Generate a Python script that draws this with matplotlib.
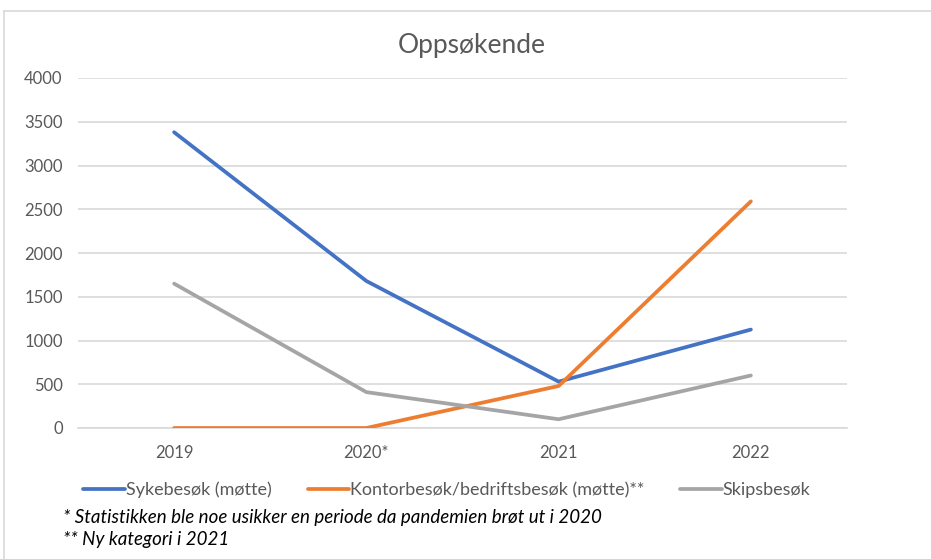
import matplotlib.pyplot as plt
from matplotlib.lines import Line2D

# data
years = ['2019', '2020*', '2021', '2022']
syke = [3380, 1680, 530, 1125]
kontor = [0, 0, 480, 2590]
skip = [1650, 410, 100, 600]
yticks = [0, 500, 1000, 1500, 2000, 2500, 3000, 3500, 4000]

labels = ['Sykebesøk (møtte)', 'Kontorbesøk/bedriftsbesøk (møtte)**', 'Skipsbesøk']
colors = ['#4472C4', '#ED7D31', '#A5A5A5']
notes = ['* Statistikken ble noe usikker en periode da pandemien brøt ut i 2020',
         '** Ny kategori i 2021']

plt.rcParams['font.family'] = ['Lato', 'DejaVu Sans']

W, H = 931, 559
fig = plt.figure(figsize=(W / 100, H / 100), dpi=100)
ax = fig.add_axes([78 / W, 1 - 428 / H, (847 - 78) / W, (428 - 78) / H])

x = list(range(len(years)))
for vals, c, lab in zip([syke, kontor, skip], colors, labels):
    ax.plot(x, vals, color=c, lw=2.7, solid_capstyle='round', label=lab, zorder=3)

ax.set_xlim(-0.5, len(years) - 0.5)
ax.set_ylim(0, 4000)
ax.set_yticks(yticks)
ax.set_xticks(x)
ax.set_xticklabels(years)
ax.tick_params(length=0, labelsize=12, labelcolor='#595959')
ax.tick_params(axis='y', pad=11)
ax.tick_params(axis='x', pad=12)
ax.grid(axis='y', color='#D9D9D9', lw=1.2)
ax.set_axisbelow(True)
for s in ['top', 'right', 'left']:
    ax.spines[s].set_visible(False)
ax.spines['bottom'].set_color('#D9D9D9')
ax.spines['bottom'].set_linewidth(1.2)

fig.text(472 / W, 1 - 46 / H, 'Oppsøkende', ha='center', va='center',
         fontsize=19, color='#595959')

# legend below the plot
leg = fig.legend(loc='center left', bbox_to_anchor=(76 / W, 1 - 490 / H), ncol=3,
                 frameon=False, fontsize=13, handlelength=2.3, handletextpad=0.05,
                 columnspacing=2.0, borderaxespad=0)
for t in leg.get_texts():
    t.set_color('#595959')

fig.text(63 / W, 1 - 517 / H, notes[0], fontsize=13.5, style='italic', va='center')
fig.text(63 / W, 1 - 540 / H, notes[1], fontsize=13.5, style='italic', va='center')

# chart frame (left and top edge)
fig.add_artist(Line2D([4 / W, 4 / W], [0, 1 - 11 / H], color='#D9D9D9', lw=1.2))
fig.add_artist(Line2D([4 / W, 1], [1 - 11 / H, 1 - 11 / H], color='#D9D9D9', lw=1.2))

fig.savefig('out.png', dpi=100)
